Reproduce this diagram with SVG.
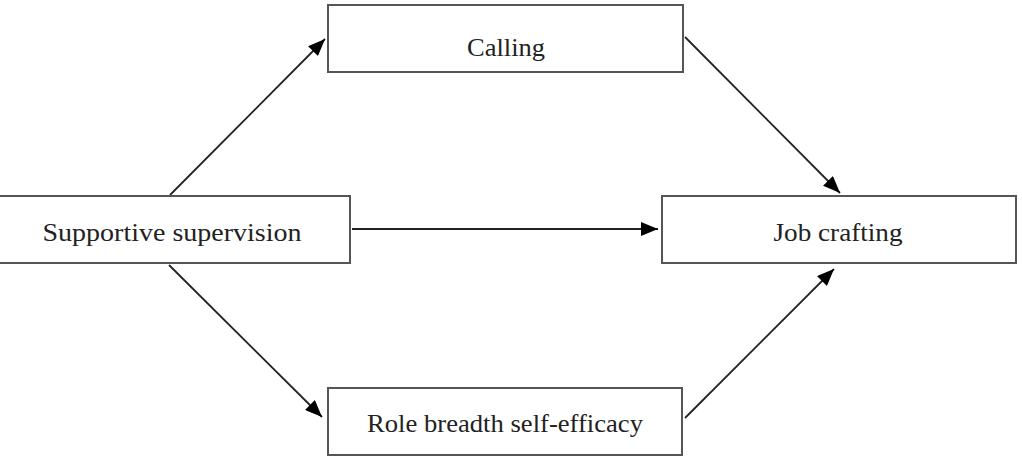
<svg xmlns="http://www.w3.org/2000/svg" width="1022" height="461" viewBox="0 0 1022 461">
<style>
.box{fill:#fff;stroke:#555;stroke-width:2}
.lbl{font-family:"Liberation Serif","DejaVu Serif",serif;font-size:26px;fill:#222;text-anchor:middle}
.con{stroke:#222;stroke-width:1.8;fill:none;marker-end:url(#ah)}
</style>
<defs>
<marker id="ah" markerUnits="userSpaceOnUse" markerWidth="18" markerHeight="14" refX="17" refY="7" orient="auto">
<path d="M0,0 L17,7 L0,14 Z" fill="#000"/>
</marker>
</defs>
<rect width="1022" height="461" fill="#fff"/>
<g id="connectors">
<line class="con" x1="170" y1="195" x2="325" y2="39"/>
<line class="con" x1="685" y1="37" x2="840" y2="193"/>
<line class="con" x1="169" y1="265" x2="322" y2="417"/>
<line class="con" x1="685" y1="418" x2="834" y2="269"/>
<line class="con" x1="352" y1="229" x2="658" y2="229"/>
</g>
<g id="supportive">
<rect class="box" x="-6" y="196" width="356" height="67"/>
<text class="lbl" x="172" y="241" textLength="259" lengthAdjust="spacingAndGlyphs">Supportive supervision</text>
</g>
<g id="calling">
<rect class="box" x="328" y="5" width="355" height="67"/>
<text class="lbl" x="506" y="56" textLength="78" lengthAdjust="spacingAndGlyphs">Calling</text>
</g>
<g id="jobcrafting">
<rect class="box" x="662" y="196" width="354" height="67"/>
<text class="lbl" x="838" y="241" textLength="129" lengthAdjust="spacingAndGlyphs">Job crafting</text>
</g>
<g id="rolebreadth">
<rect class="box" x="328" y="388" width="354" height="67"/>
<text class="lbl" x="505" y="432" textLength="276" lengthAdjust="spacingAndGlyphs">Role breadth self-efficacy</text>
</g>
</svg>
